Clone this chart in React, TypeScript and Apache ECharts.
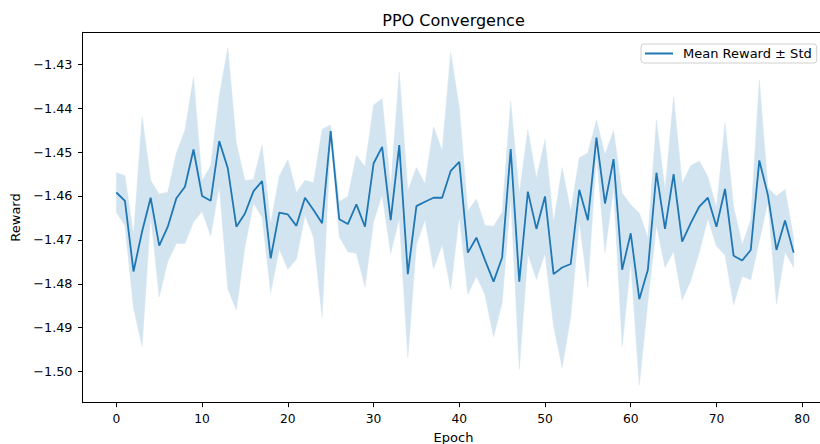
import React, { useEffect, useRef } from "react";
import * as echarts from "echarts";

// Training epochs 0..79
const epochs: number[] = Array.from({ length: 80 }, (_, i) => i);

// Mean episode reward per epoch
const meanReward: number[] = [
  -1.4592, -1.4611, -1.4772, -1.4681, -1.4604, -1.4713, -1.467, -1.4605, -1.4579, -1.4494,
  -1.46, -1.4611, -1.4475, -1.4537, -1.467, -1.464, -1.4589, -1.4566, -1.4742, -1.4638,
  -1.4642, -1.4668, -1.4604, -1.4632, -1.4662, -1.4452, -1.4653, -1.4664, -1.4619, -1.467,
  -1.4526, -1.4488, -1.4655, -1.4484, -1.4778, -1.4623, -1.4613, -1.4604, -1.4604, -1.4543,
  -1.4522, -1.4729, -1.4695, -1.4746, -1.4795, -1.474, -1.4493, -1.4795, -1.459, -1.4675,
  -1.4601, -1.4778, -1.4763, -1.4755, -1.4586, -1.4655, -1.4467, -1.4617, -1.4516, -1.4768,
  -1.4685, -1.4835, -1.4768, -1.4547, -1.4675, -1.455, -1.4704, -1.4662, -1.4624, -1.4604,
  -1.467, -1.4584, -1.4736, -1.4747, -1.4723, -1.4519, -1.4598, -1.4723, -1.4656, -1.4729,
];

// Standard deviation of the reward per epoch
const rewardStd: number[] = [
  0.0045, 0.0057, 0.0083, 0.0262, 0.004, 0.0117, 0.0079, 0.0103, 0.0129, 0.0165,
  0.0035, 0.008, 0.0102, 0.0275, 0.019, 0.0075, 0.0027, 0.0083, 0.0078, 0.0083,
  0.0125, 0.0076, 0.004, 0.0062, 0.0214, 0.0014, 0.004, 0.0063, 0.0112, 0.0137,
  0.0133, 0.011, 0.0076, 0.0167, 0.019, 0.0088, 0.0041, 0.0162, 0.0107, 0.027,
  0.0124, 0.0095, 0.0088, 0.0079, 0.0126, 0.0103, 0.0109, 0.02, 0.0141, 0.0115,
  0.013, 0.0118, 0.0228, 0.012, 0.0073, 0.0153, 0.004, 0.0112, 0.0065, 0.0175,
  0.0065, 0.0196, 0.0073, 0.012, 0.0088, 0.0176, 0.0133, 0.0131, 0.0104, 0.0048,
  0.0044, 0.0151, 0.0112, 0.0036, 0.0068, 0.0183, 0.0016, 0.0123, 0.0071, 0.0034,
];

const xTicks: number[] = [0, 10, 20, 30, 40, 50, 60, 70, 80];
const yTicks: number[] = [-1.5, -1.49, -1.48, -1.47, -1.46, -1.45, -1.44, -1.43];

const SERIES_NAME = "Mean Reward \u00b1 Std";
const FONT = "DejaVu Sans";
const LINE_COLOR = "#1f77b4";
const BAND_COLOR = "#d2e4f0";

// Plot frame: the right part of the frame runs past the visible page edge
const PLOT_LEFT = 82.5;
const PLOT_TOP = 32.3;
const PLOT_WIDTH = 817.5;
const PLOT_HEIGHT = 370.4;
const X_MIN = -3.95;
const X_MAX = 91.41;

const fmtTick = (v: number) => (v < 0 ? "\u2212" : "") + Math.abs(v).toFixed(2);

export default function App() {
  const ref = useRef<HTMLDivElement>(null);

  useEffect(() => {
    if (!ref.current) return;
    document.body.style.overflow = "hidden";
    const chart = echarts.init(ref.current, undefined, { renderer: "svg" });

    const lower = meanReward.map((m, i) => m - rewardStd[i]);
    const upper = meanReward.map((m, i) => m + rewardStd[i]);

    const spine = { show: true, onZero: false, lineStyle: { color: "#000", width: 1 } };
    const tick = { show: true, inside: false, length: 4.5, lineStyle: { color: "#000", width: 1 } };

    chart.setOption({
      animation: false,
      backgroundColor: "#fff",
      textStyle: { fontFamily: FONT },
      title: {
        text: "PPO Convergence",
        left: 448.5,
        textAlign: "center",
        top: 7,
        textStyle: { fontFamily: FONT, fontSize: 16, fontWeight: "normal", color: "#000" },
      },
      legend: {
        data: [{ name: SERIES_NAME, icon: "path://M0 0H28V2H0Z" }],
        left: 641,
        top: 44,
        itemWidth: 28,
        itemHeight: 2,
        padding: [3, 5, 3, 4],
        backgroundColor: "rgba(255,255,255,0.8)",
        borderColor: "#d0d0d0",
        borderWidth: 1,
        borderRadius: 3,
        textStyle: { fontFamily: FONT, fontSize: 13, color: "#000", padding: [0, 0, 0, 5], lineHeight: 12 },
      },
      graphic: [
        {
          // x-axis title, centred under the visible part of the plot
          type: "text",
          x: 453.5,
          y: PLOT_TOP + PLOT_HEIGHT + 28,
          style: {
            text: "Epoch",
            fill: "#000",
            font: `13px "${FONT}"`,
            textAlign: "center",
            textVerticalAlign: "top",
          },
        },
      ],
      grid: {
        left: PLOT_LEFT,
        top: PLOT_TOP,
        width: PLOT_WIDTH,
        height: PLOT_HEIGHT,
        show: false,
        borderWidth: 0,
        borderColor: "transparent",
        containLabel: false,
        outerBoundsMode: "none",
      },
      xAxis: [
        {
          type: "value",
          position: "bottom",
          min: X_MIN,
          max: X_MAX,
          axisLine: spine,
          axisTick: { ...tick, customValues: xTicks },
          splitLine: { show: false },
          axisLabel: {
            customValues: xTicks,
            margin: 10,
            fontFamily: FONT,
            fontSize: 12.3,
            color: "#000",
          },
        },
        {
          // top spine of the plot frame
          type: "value",
          position: "top",
          min: X_MIN,
          max: X_MAX,
          axisLine: spine,
          axisTick: { show: false },
          axisLabel: { show: false },
          splitLine: { show: false },
        },
      ],
      yAxis: {
        type: "value",
        min: -1.5071,
        max: -1.4227,
        name: "Reward",
        nameLocation: "middle",
        nameGap: 57,
        nameTextStyle: { fontFamily: FONT, fontSize: 13, color: "#000" },
        axisLine: spine,
        axisTick: { ...tick, customValues: yTicks },
        splitLine: { show: false },
        axisLabel: {
          customValues: yTicks,
          margin: 10,
          fontFamily: FONT,
          fontSize: 12.8,
          color: "#000",
          formatter: fmtTick,
        },
      },
      series: [
        {
          // Shaded ±1 std band, one polygon traced along the upper bound and back along the lower bound
          name: "stdBand",
          type: "custom",
          silent: true,
          z: 1,
          data: [0],
          renderItem: (_params: any, api: any) => {
            const top = epochs.map((e, i) => api.coord([e, upper[i]]));
            const bottom = epochs.map((e, i) => api.coord([e, lower[i]])).reverse();
            return {
              type: "polygon",
              shape: { points: top.concat(bottom) },
              style: { fill: BAND_COLOR, stroke: BAND_COLOR, lineWidth: 0.5 },
            };
          },
        },
        {
          name: SERIES_NAME,
          type: "line",
          symbol: "none",
          color: LINE_COLOR,
          lineStyle: { color: LINE_COLOR, width: 1.8 },
          data: epochs.map((e, i) => [e, meanReward[i]]),
          z: 5,
        },
      ],
    });

    return () => chart.dispose();
  }, []);

  return (
    <div style={{ position: "fixed", left: 0, top: 0, width: 820, height: 444, overflow: "hidden" }}>
      <div ref={ref} style={{ width: 1000, height: 444 }} />
    </div>
  );
}
